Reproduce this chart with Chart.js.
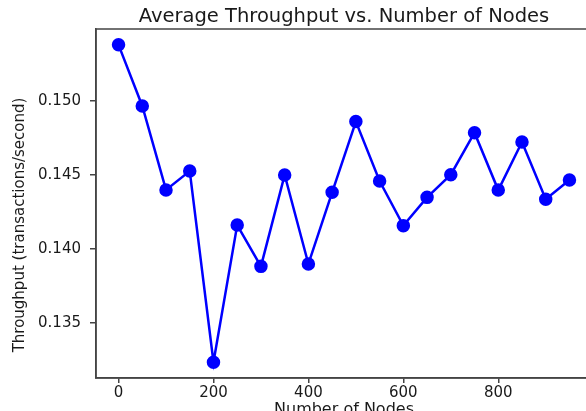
<!DOCTYPE html>
<html>
<head>
<meta charset="utf-8">
<script src="https://cdn.jsdelivr.net/npm/chart.js@4"></script>
<style>
  html, body { margin: 0; padding: 0; background: #fff; overflow: hidden; }
  #wrap { width: 600px; height: 420px; }
</style>
</head>
<body>
<div id="wrap"><canvas id="chart" width="600" height="420"></canvas></div>
<script>
// Werte
const nodes = [0, 50, 100, 150, 200, 250, 300, 350, 400, 450, 500, 550, 600, 650, 700, 750, 800, 850, 900, 950];
const throughput = [0.15379, 0.14966, 0.14399, 0.14527, 0.13236, 0.14162, 0.13883, 0.14500, 0.13899, 0.14383,
    0.14861, 0.14459, 0.14158, 0.14349, 0.14502, 0.14786, 0.14398, 0.14723, 0.14336, 0.14466];
const xTicks = [0, 200, 400, 600, 800];
const yTicks = [0.135, 0.140, 0.145, 0.150];

const titleText = 'Average Throughput vs. Number of Nodes';
const xLabel = 'Number of Nodes';
const yLabel = 'Throughput (transactions/second)';

// Rahmen oben/rechts + y-Beschriftung
const framePlugin = {
    id: 'frame',
    afterDraw(chart) {
        const {ctx, chartArea: a} = chart;
        ctx.save();
        ctx.strokeStyle = '#444';
        ctx.lineWidth = 1.5;
        ctx.strokeRect(a.left, a.top, a.right - a.left, a.bottom - a.top);
        ctx.translate(20, 225);
        ctx.rotate(-Math.PI / 2);
        ctx.font = '15px "DejaVu Sans"';
        ctx.fillStyle = '#1a1a1a';
        ctx.textAlign = 'center';
        ctx.textBaseline = 'middle';
        ctx.fillText(yLabel, 0, 0);
        ctx.restore();
    }
};

const data = {
    datasets: [{
        label: 'Throughput',
        data: nodes.map((n, i) => ({x: n, y: throughput[i]})),
        borderColor: '#0000ff',
        backgroundColor: '#0000ff',
        borderWidth: 2.5,
        pointRadius: 5.5,
        pointHoverRadius: 5.5,
        tension: 0,
        fill: false
    }]
};

const config = {
    type: 'line',
    data: data,
    plugins: [framePlugin],
    options: {
        responsive: false,
        animation: false,
        layout: {padding: {left: 0, right: 8, top: 0, bottom: 0}},
        plugins: {
            legend: {display: false},
            tooltip: {enabled: false},
            title: {
                display: true, text: titleText, fullSize: false,
                color: '#1a1a1a',
                font: {family: 'DejaVu Sans', size: 19.5, weight: 'normal'},
                padding: {top: 5, bottom: 0.6}
            }
        },
        scales: {
            x: {
                type: 'linear', min: -47.5, max: 997.5,
                afterBuildTicks: s => { s.ticks = xTicks.map(v => ({value: v})); },
                afterFit: s => { s.height = 42; },
                grid: {display: true, drawOnChartArea: false, drawTicks: true, tickLength: 5, color: '#444', lineWidth: 1.5},
                border: {display: true, color: '#444', width: 1.5},
                ticks: {color: '#1a1a1a', padding: 1, maxRotation: 0, font: {family: 'DejaVu Sans', size: 15}},
                title: {display: true, text: xLabel, color: '#1a1a1a', padding: {top: 0, bottom: 1},
                    font: {family: 'DejaVu Sans', size: 16}}
            },
            y: {
                type: 'linear', min: 0.13129, max: 0.15486,
                afterBuildTicks: s => { s.ticks = yTicks.map(v => ({value: v})); },
                afterFit: s => { s.width = 96; },
                grid: {display: true, drawOnChartArea: false, drawTicks: true, tickLength: 6, color: '#444', lineWidth: 1.5},
                border: {display: true, color: '#444', width: 1.5},
                ticks: {color: '#1a1a1a', padding: 9, font: {family: 'DejaVu Sans', size: 15},
                    callback: v => v.toFixed(3)}
            }
        }
    }
};

const chart = new Chart(document.getElementById('chart'), config);
</script>
</body>
</html>
